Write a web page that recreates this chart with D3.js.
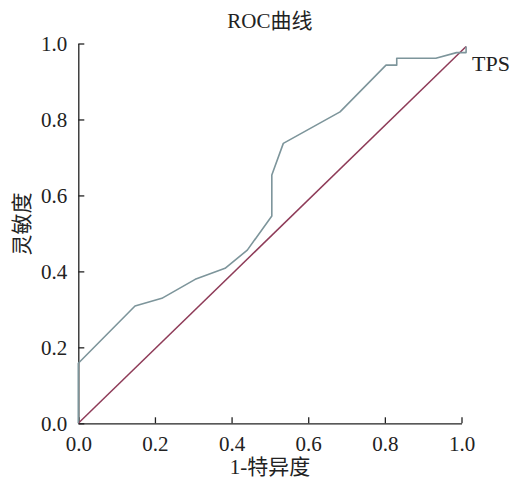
<!DOCTYPE html>
<html>
<head>
<meta charset="utf-8">
<title>ROC曲线</title>
<script src="https://cdn.jsdelivr.net/npm/d3@7"></script>
<style>
  body { margin: 0; background: #fff; }
  text { font-family: "Liberation Serif", "Noto Sans CJK SC", serif; fill: #222; }
</style>
</head>
<body>
<script>
// ROC curve points (1-specificity, sensitivity)
var fpr = [0, 0, 0.148, 0.218, 0.305, 0.383, 0.441, 0.505, 0.505, 0.535, 0.683, 0.803, 0.831, 0.831, 0.933, 0.987, 1.012, 1.012];
var tpr = [0, 0.158, 0.309, 0.329, 0.379, 0.408, 0.456, 0.546, 0.654, 0.737, 0.820, 0.943, 0.943, 0.961, 0.961, 0.976, 0.976, 0.992];
// reference line
var refX = [0, 1.012];
var refY = [0, 0.992];
var ticks = [0, 0.2, 0.4, 0.6, 0.8, 1.0];

var width = 515, height = 479;
var margin = { left: 78.3, right: 515 - 461.5, top: 43.5, bottom: 479 - 423.3 };

var svg = d3.select('body').append('svg')
  .attr('width', width)
  .attr('height', height);

var x = d3.scaleLinear().domain([0, 1]).range([margin.left, width - margin.right]);
var y = d3.scaleLinear().domain([0, 1]).range([height - margin.bottom, margin.top]);

var line = d3.line()
  .x(function(d) { return x(d[0]); })
  .y(function(d) { return y(d[1]); });

// axes
var xAxis = svg.append('g')
  .attr('transform', 'translate(0,' + y(0) + ')')
  .call(d3.axisBottom(x).tickValues(ticks).tickFormat(d3.format('.1f'))
    .tickSizeInner(-6).tickSizeOuter(0).tickPadding(13));

var yAxis = svg.append('g')
  .attr('transform', 'translate(' + x(0) + ',0)')
  .call(d3.axisLeft(y).tickValues(ticks).tickFormat(d3.format('.1f'))
    .tickSizeInner(-6).tickSizeOuter(0).tickPadding(11));

[xAxis, yAxis].forEach(function(a) {
  a.selectAll('path, line').attr('stroke', '#222').attr('stroke-width', 1.3);
  a.selectAll('text').attr('font-size', 21).attr('fill', '#222')
    .style('font-family', '"Liberation Serif", serif');
});

// diagonal
svg.append('path')
  .datum(d3.zip(refX, refY))
  .attr('d', line)
  .attr('fill', 'none')
  .attr('stroke', '#8e3b58')
  .attr('stroke-width', 1.5);

// ROC curve
svg.append('path')
  .datum(d3.zip(fpr, tpr))
  .attr('d', line)
  .attr('fill', 'none')
  .attr('stroke', '#7d959b')
  .attr('stroke-width', 1.6)
  .attr('stroke-linejoin', 'round');

// labels
svg.append('text')
  .attr('x', (x(0) + x(1)) / 2)
  .attr('y', 28)
  .attr('text-anchor', 'middle')
  .attr('font-size', 21)
  .text('ROC曲线');

svg.append('text')
  .attr('x', (x(0) + x(1)) / 2)
  .attr('y', 474)
  .attr('text-anchor', 'middle')
  .attr('font-size', 21)
  .text('1-特异度');

svg.append('text')
  .attr('transform', 'translate(29,224) rotate(-90)')
  .attr('text-anchor', 'middle')
  .attr('font-size', 21)
  .text('灵敏度');

svg.append('text')
  .attr('x', 472)
  .attr('y', 71)
  .attr('font-size', 22)
  .text('TPS');
</script>
</body>
</html>
